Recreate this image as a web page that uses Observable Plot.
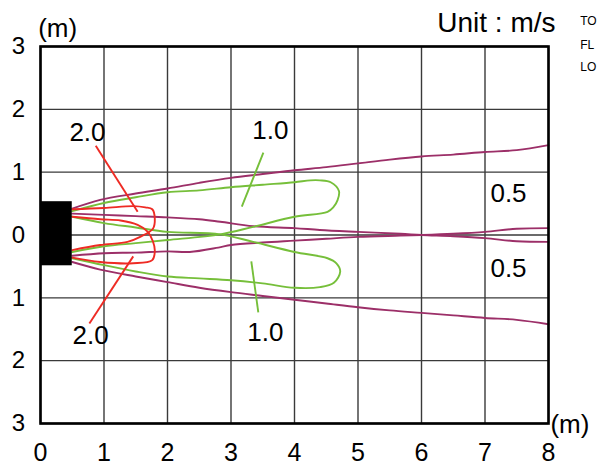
<!DOCTYPE html>
<html>
<head>
<meta charset="utf-8">
<script src="https://cdn.jsdelivr.net/npm/d3@7"></script>
<script src="https://cdn.jsdelivr.net/npm/@observablehq/plot@0.6"></script>
<style>
  html, body { margin: 0; padding: 0; background: #fff; }
  #chart svg { display: block; }
</style>
</head>
<body>
<div id="chart"></div>
<script>
// ---- data (metres) ----
const xTicks = [0, 1, 2, 3, 4, 5, 6, 7, 8];
const yTicks = [-3, -2, -1, 0, 1, 2, 3];

// outlet block
const block = [{x1: 0, x2: 0.5, y1: -0.49, y2: 0.53}];

// 0.5 m/s contour (magenta)
const mag05UpperOuter = [[0.5,0.42],[0.94,0.56],[1.5,0.66],[2,0.74],[2.5,0.83],[3,0.91],[3.5,0.97],[4,1.03],[4.5,1.08],[5,1.14],[5.5,1.2],[6,1.25],[6.5,1.28],[7,1.32],[7.5,1.35],[8,1.43]];
const mag05LowerOuter = [[0.5,-0.43],[0.94,-0.55],[1.5,-0.66],[2,-0.75],[2.5,-0.84],[3,-0.91],[3.5,-0.97],[4,-1.03],[4.5,-1.09],[5,-1.15],[5.5,-1.2],[6,-1.24],[6.5,-1.28],[7,-1.32],[7.5,-1.35],[8,-1.42]];
const mag05UpperInner = [[0.5,0.34],[1,0.32],[1.5,0.3],[2,0.28],[2.5,0.25],[2.83,0.21],[3.35,0.14],[4,0.11],[4.4,0.08],[5,0.05],[5.67,0.02],[6,0],[6.5,-0.02],[7,-0.05],[7.5,-0.1],[8,-0.11]];
const mag05LowerInner = [[0.5,-0.33],[1,-0.29],[1.5,-0.28],[2,-0.26],[2.35,-0.27],[2.8,-0.2],[3,-0.16],[3.5,-0.12],[4,-0.09],[4.5,-0.06],[5,-0.03],[5.67,-0.01],[6,0],[6.5,0.02],[7,0.05],[7.5,0.1],[8,0.11]];

// 1.0 m/s contour (green)
const grn10Upper = [[0.5,0.38],[1,0.51],[1.5,0.6],[2,0.68],[2.5,0.71],[3,0.76],[3.5,0.8],[4,0.84],[4.25,0.87],[4.4,0.87],[4.57,0.84],[4.7,0.7],[4.68,0.56],[4.61,0.44],[4.52,0.37],[4,0.29],[3.35,0.13],[2.83,0.01],[2,-0.08],[1.5,-0.13],[1,-0.18],[0.5,-0.27]];
const grn10Lower = [[0.5,0.29],[1,0.19],[1.5,0.12],[2,0.05],[2.83,0.01],[3.35,-0.11],[4,-0.27],[4.52,-0.37],[4.66,-0.45],[4.72,-0.58],[4.62,-0.76],[4.4,-0.83],[4,-0.84],[3.5,-0.77],[3,-0.72],[2.5,-0.69],[2,-0.66],[1.5,-0.58],[1,-0.48],[0.5,-0.37]];

// 2.0 m/s contour (red)
const red20Upper = [[0.5,0.41],[1,0.43],[1.46,0.46],[1.65,0.44],[1.76,0.41],[1.8,0.26],[1.77,0.1],[1.57,-0.03],[1.37,-0.11],[0.94,-0.16],[0.5,-0.24]];
const red20Lower = [[0.5,0.29],[0.94,0.25],[1.26,0.23],[1.53,0.16],[1.69,0.05],[1.77,-0.1],[1.8,-0.25],[1.76,-0.4],[1.46,-0.45],[0.94,-0.43],[0.5,-0.36]];

// leader lines
const leaders = [
  {x1: 0.87, y1: 1.42, x2: 1.53, y2: 0.37, c: "red"},
  {x1: 1.46, y1: -0.34, x2: 0.77, y2: -1.41, c: "red"},
  {x1: 3.51, y1: 1.31, x2: 3.17, y2: 0.45, c: "green"},
  {x1: 3.32, y1: -0.42, x2: 3.43, y2: -1.23, c: "green"}
];

// contour value labels
const valueLabels = [
  {x: 0.74, y: 1.63, t: "2.0"},
  {x: 0.79, y: -1.6, t: "2.0"},
  {x: 3.62, y: 1.66, t: "1.0"},
  {x: 3.54, y: -1.55, t: "1.0"},
  {x: 7.37, y: 0.66, t: "0.5"},
  {x: 7.37, y: -0.53, t: "0.5"}
];

// annotation texts
const unitLabel = [{x: 8.11, y: 3.37, t: "Unit : m/s"}];
const axisUnitY = [{x: 0.27, y: 3.29, t: "(m)"}];
const axisUnitX = [{x: 8.03, y: -3.02, t: "(m)"}];
const sideNotes = [
  {x: 8.5, y: 3.4, t: "TO"},
  {x: 8.5, y: 3.02, t: "FL"},
  {x: 8.5, y: 2.67, t: "LO"}
];

const colors = {mag: "#9c2f68", grn: "#76bf3a", red: "#ee2b24"};

const toRows = (pts, id, c) => pts.map(([x, y]) => ({x, y, id, c}));
const lines = [
  ...toRows(mag05UpperOuter, "m1", colors.mag),
  ...toRows(mag05LowerOuter, "m2", colors.mag),
  ...toRows(mag05UpperInner, "m3", colors.mag),
  ...toRows(mag05LowerInner, "m4", colors.mag),
  ...toRows(grn10Upper, "g1", colors.grn),
  ...toRows(grn10Lower, "g2", colors.grn),
  ...toRows(red20Upper, "r1", colors.red),
  ...toRows(red20Lower, "r2", colors.red)
];

const font = "'Liberation Sans', Arial, Helvetica, sans-serif";

const chart = Plot.plot({
  width: 597,
  height: 474,
  marginLeft: 40,
  marginRight: 49,
  marginTop: 46,
  marginBottom: 51,
  style: {fontFamily: font, fontSize: "24px", background: "#fff", color: "#000", overflow: "visible"},
  x: {domain: [0, 8]},
  y: {domain: [-3, 3]},
  marks: [
    Plot.gridX(xTicks, {stroke: "#3a3a3a", strokeOpacity: 1, strokeWidth: 1.4}),
    Plot.gridY(yTicks, {stroke: "#3a3a3a", strokeOpacity: 1, strokeWidth: 1.4}),
    Plot.axisX({ticks: xTicks, tickSize: 0, tickPadding: 20, fontSize: 25, label: null}),
    Plot.axisY({ticks: yTicks, tickSize: 0, tickPadding: 22, textAnchor: "middle", tickFormat: d => Math.abs(d), fontSize: 24, label: null}),
    Plot.line(lines, {x: "x", y: "y", z: "id", stroke: "c", strokeWidth: 1.9, curve: "catmull-rom"}),
    Plot.link(leaders, {x1: "x1", y1: "y1", x2: "x2", y2: "y2", stroke: d => d.c === "red" ? colors.red : colors.grn, strokeWidth: 1.9}),
    Plot.rect(block, {x1: "x1", x2: "x2", y1: "y1", y2: "y2", fill: "#000"}),
    Plot.frame({stroke: "#000", strokeWidth: 2.6}),
    Plot.text(valueLabels, {x: "x", y: "y", text: "t", fontSize: 26, fill: "#000"}),
    Plot.text(unitLabel, {x: "x", y: "y", text: "t", fontSize: 28, textAnchor: "end", fill: "#000"}),
    Plot.text(axisUnitY, {x: "x", y: "y", text: "t", fontSize: 26, fill: "#000"}),
    Plot.text(axisUnitX, {x: "x", y: "y", text: "t", fontSize: 26, textAnchor: "start", fill: "#000"}),
    Plot.text(sideNotes, {x: "x", y: "y", text: "t", fontSize: 12, textAnchor: "start", fill: "#000"})
  ]
});
document.getElementById("chart").appendChild(chart);
</script>
</body>
</html>
